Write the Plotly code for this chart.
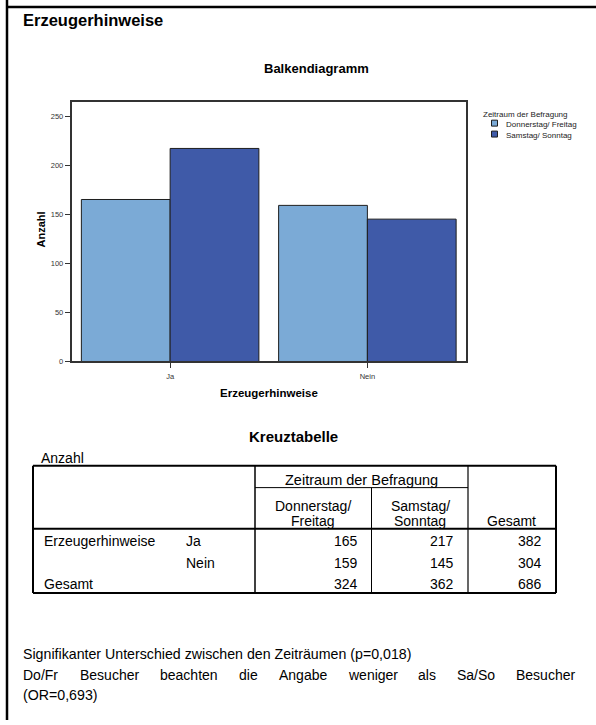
import plotly.graph_objects as go

# ---------------- data ----------------
categories = ["Ja", "Nein"]
series_names = ["Donnerstag/ Freitag", "Samstag/ Sonntag"]
values_do_fr = [165, 159]
values_sa_so = [217, 145]
series_colors = ["#7BAAD6", "#3F5AA8"]
y_ticks = [0, 50, 100, 150, 200, 250]

row_labels = ["Ja", "Nein"]
row_totals = [382, 304]
col_totals = [324, 362]
grand_total = 686
col_heads_top = ["Donnerstag/", "Samstag/"]
col_heads_bottom = ["Freitag", "Sonntag"]

line1 = "Signifikanter Unterschied zwischen den Zeiträumen (p=0,018)"
line2_words = ["Do/Fr", "Besucher", "beachten", "die", "Angabe", "weniger", "als", "Sa/So", "Besucher"]
line3 = "(OR=0,693)"

# ---------------- layout helpers ----------------
W, H = 596, 725
FONT = "Liberation Sans, Arial, sans-serif"


def px(x):
    return x / W


def py(y):
    return 1 - y / H


fig = go.Figure()
for name, vals, col in zip(series_names, [values_do_fr, values_sa_so], series_colors):
    fig.add_bar(x=categories, y=vals, name=name, showlegend=False,
                marker=dict(color=col, line=dict(color="#1e1e1e", width=1)))

annotations = []
shapes = []


def text(x, y, s, size=14, bold=False, xanchor="left", color="black", angle=0):
    annotations.append(dict(
        x=px(x), y=py(y), xref="paper", yref="paper", text=f"<b>{s}</b>" if bold else s,
        showarrow=False, xanchor=xanchor, yanchor="middle", textangle=angle,
        font=dict(family=FONT, size=size, color=color)))


def line(x0, y0, x1, y1, w=1, color="black"):
    shapes.append(dict(type="line", xref="paper", yref="paper",
                       x0=px(x0), y0=py(y0), x1=px(x1), y1=py(y1),
                       line=dict(color=color, width=w)))


# outer frame
line(7, 0, 7, 725, w=2.5)
line(6, 7, 596, 7, w=2.5)

# titles
text(21, 20, "Erzeugerhinweise", size=16.5, bold=True)
text(316, 69, "Balkendiagramm", size=13, bold=True, xanchor="center")
text(41, 231, "Anzahl", size=11, bold=True, xanchor="center", angle=-90)
text(269, 396, "Erzeugerhinweise", size=11.5, bold=True, xanchor="center")

# manual legend
text(481, 115.5, "Zeitraum der Befragung", size=8, color="#222")
for i, (name, col) in enumerate(zip(series_names, series_colors)):
    yc = 124 + i * 11
    shapes.append(dict(type="rect", xref="paper", yref="paper",
                       x0=px(491.5), x1=px(497.5), y0=py(yc + 3), y1=py(yc - 3),
                       fillcolor=col, line=dict(color="#1e1e1e", width=1)))
    text(504, yc + 1.5, name, size=8, color="#222")

# table
text(293, 440, "Kreuztabelle", size=15, bold=True, xanchor="center")
text(39, 461, "Anzahl", size=14)
line(33, 469, 556, 469, w=2)
line(33, 597, 556, 597, w=2)
line(33, 469, 33, 597, w=2)
line(556, 469, 556, 597, w=2)
line(255, 469, 255, 597, w=1.5)
line(371.5, 491, 371.5, 597, w=1)
line(468, 469, 468, 597, w=1.2)
line(255, 491, 468, 491, w=1)
line(33, 532.5, 556, 532.5, w=2)

text(361, 483.5, "Zeitraum der Befragung", size=14.5, xanchor="center")
col_centers = [313, 420]
for c, top, bot in zip(col_centers, col_heads_top, col_heads_bottom):
    text(c, 509.5, top, xanchor="center")
    text(c, 524.5, bot, xanchor="center")
text(511, 524.5, "Gesamt", xanchor="center")

row_y = [545, 567, 588]
text(42, row_y[0], "Erzeugerhinweise")
for ry, lab in zip(row_y[:2], row_labels):
    text(184, ry, lab)
text(42, row_y[2], "Gesamt")

col_right = [360, 456, 544]
for ry, a, b, t in zip(row_y[:2], values_do_fr, values_sa_so, row_totals):
    for cx, v in zip(col_right, [a, b, t]):
        text(cx, ry, str(v), xanchor="right")
for cx, v in zip(col_right, col_totals + [grand_total]):
    text(cx, row_y[2], str(v), xanchor="right")

# notes (line 2 is justified between x=22 and x=575)
text(21, 659, line1, size=14.2)
word_x = [21, 78, 158, 237, 277, 346, 416, 455, 514]
for wx, wd in zip(word_x, line2_words):
    text(wx, 680, wd, size=14)
text(21, 700, line3, size=14.2)

axis_common = dict(showline=True, linecolor="#333", linewidth=1.5, mirror=True,
                   ticks="outside", ticklen=5, tickcolor="#333", tickwidth=1,
                   showgrid=False, zeroline=False,
                   tickfont=dict(family=FONT, size=7.5, color="#333"))

fig.update_layout(
    width=W, height=H, margin=dict(l=0, r=0, t=0, b=0),
    barmode="group", bargap=0.1, bargroupgap=0,
    plot_bgcolor="white", paper_bgcolor="white",
    font=dict(family=FONT),
    xaxis=dict(domain=[px(71.5), px(466)], range=[-0.5, 1.5], ticklabelstandoff=2,
               **axis_common),
    yaxis=dict(domain=[py(364), py(103)], range=[0, 264], tickvals=y_ticks, **axis_common),
    annotations=annotations, shapes=shapes,
)

fig.write_html(
    "out.html",
    config={"displayModeBar": False},
    post_script="document.body.style.margin='0';document.body.style.overflow='hidden';"
                "document.documentElement.style.overflow='hidden';",
)
